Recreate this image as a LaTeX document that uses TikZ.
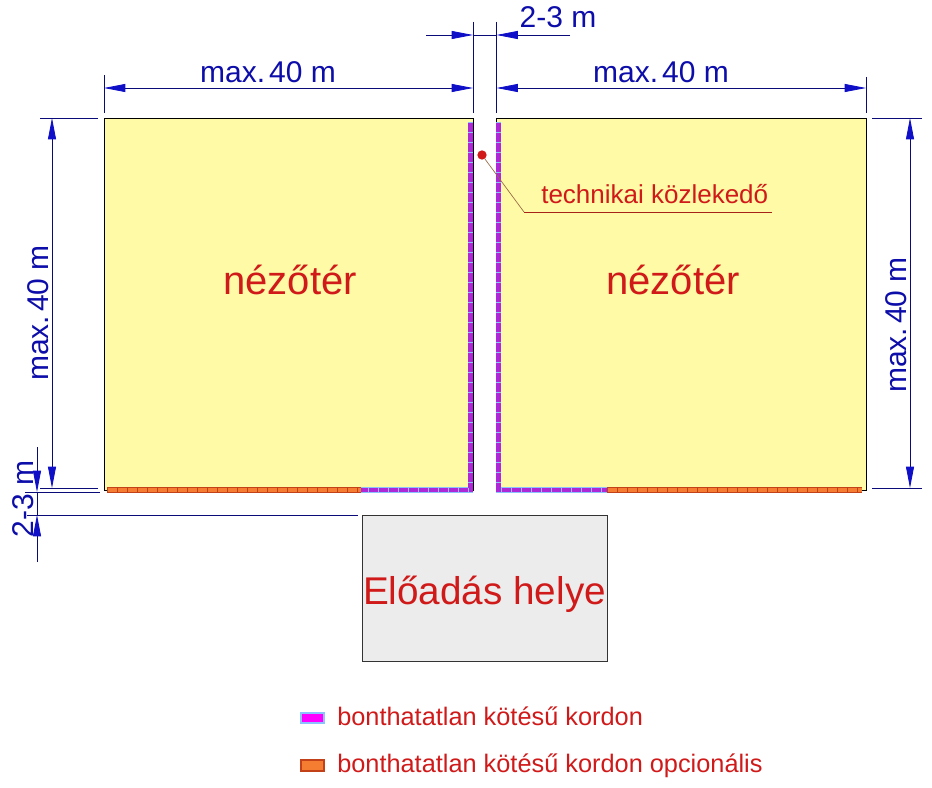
\documentclass[tikz,border=0pt]{standalone}
\usepackage{fontspec}
\setmainfont{Liberation Sans}
\usetikzlibrary{arrows.meta,positioning}

\definecolor{dimblue}{RGB}{15,15,200}
\definecolor{dimnavy}{RGB}{10,10,120}
\definecolor{labelred}{RGB}{208,26,26}
\definecolor{areayellow}{RGB}{255,250,165}
\definecolor{stagegray}{RGB}{236,236,236}
\definecolor{cordonviolet}{RGB}{175,40,215}
\definecolor{cordonedge}{RGB}{140,195,255}
\definecolor{legendmagenta}{RGB}{255,0,255}
\definecolor{optorange}{RGB}{245,125,50}
\definecolor{optedge}{RGB}{195,65,25}
\definecolor{leaderbrown}{RGB}{150,105,70}
\definecolor{underlinered}{RGB}{165,35,25}

\begin{document}
\begin{tikzpicture}[x=0.75pt,y=0.75pt,yscale=-1,xscale=1,
  dimline/.style={draw=dimnavy,line width=0.6pt},
  dimarrows/.style={dimline,{Triangle[length=16pt,width=6pt,color=dimblue]}-{Triangle[length=16pt,width=6pt,color=dimblue]}},
  dimtip/.style={dimline,-{Triangle[length=16pt,width=6pt,color=dimblue]}},
  dimtext/.style={text=dimblue!85!black,inner sep=0pt,anchor=base,font=\fontsize{22.5}{26}\selectfont},
  area/.style={draw=black,line width=0.6pt,fill=areayellow},
  cordon/.style={draw=cordonedge,line width=4.4pt,
    postaction={draw=cordonviolet,line width=3.1pt},
    postaction={draw=cordonedge,line width=3.1pt,dash pattern=on 0.7pt off 6.8pt}},
  optcordon/.style={draw=optedge,line width=4.2pt,
    postaction={draw=optorange,line width=2.8pt},
    postaction={draw=optedge,line width=2.8pt,dash pattern=on 0.6pt off 6.9pt}},
  bigred/.style={text=labelred,inner sep=0pt,anchor=base,font=\fontsize{30}{34}\selectfont},
  legendtext/.style={text=labelred,inner sep=0pt,anchor=base west,font=\fontsize{19}{22}\selectfont},
]
  \useasboundingbox (0,0) rectangle (932,788);

  %Shape: Rectangle [left audience]
  \draw [area] (104,118) rectangle (473,490);
  %Shape: Rectangle [right audience]
  \draw [area] (496,118) rectangle (866,490);
  %Shape: Rectangle [stage]
  \draw [draw=black!80,line width=0.6pt,fill=stagegray] (362,515) rectangle (607,661);

  %Cordon lines
  \draw [optcordon] (107,490) -- (361,490);
  \draw [cordon,line join=miter] (470.5,122) -- (470.5,490) -- (361,490);
  \draw [cordon,line join=miter] (498.5,122) -- (498.5,490) -- (607,490);
  \draw [optcordon] (607,490) -- (862,490);

  %Extension lines
  \draw [dimline] (104,75) -- (104,113);
  \draw [dimline] (473,22) -- (473,113);
  \draw [dimline] (496.5,22) -- (496.5,113);
  \draw [dimline] (866,77) -- (866,113);
  \draw [dimline] (40,118) -- (98,118);
  \draw [dimline] (40,488) -- (98,488);
  \draw [dimline] (25,492) -- (100,492);
  \draw [dimline] (27,515) -- (358,515);
  \draw [dimline] (872,118) -- (922,118);
  \draw [dimline] (872,488) -- (922,488);

  %Dimension points
  \coordinate (topL-a) at (104,88);
  \coordinate (topL-b) at (473,88);
  \coordinate (topR-a) at (496.5,88);
  \coordinate (topR-b) at (866,88);
  \coordinate (sideL-a) at (52,118);
  \coordinate (sideL-b) at (52,488);
  \coordinate (sideR-a) at (910,118);
  \coordinate (sideR-b) at (910,488);
  \coordinate (gap-out1) at (426,35);
  \coordinate (gap-in1) at (473,35);
  \coordinate (gap-in2) at (496.5,35);
  \coordinate (gap-out2) at (570,35);
  \coordinate (aisle-out1) at (37,447);
  \coordinate (aisle-in1) at (37,492);
  \coordinate (aisle-in2) at (37,515);
  \coordinate (aisle-out2) at (37,562);

  %Dimension lines
  \draw [dimarrows] (topL-a) -- (topL-b);
  \draw [dimarrows] (topR-a) -- (topR-b);
  \draw [dimarrows] (sideL-a) -- (sideL-b);
  \draw [dimarrows] (sideR-a) -- (sideR-b);
  \draw [dimtip] (gap-out1) -- (gap-in1);
  \draw [dimline] (gap-in1) -- (gap-in2);
  \draw [dimtip] (gap-out2) -- (gap-in2);
  \draw [dimtip] (aisle-out1) -- (aisle-in1);
  \draw [dimline] (aisle-in1) -- (aisle-in2);
  \draw [dimtip] (aisle-out2) -- (aisle-in2);

  % Text Node
  \node [dimtext] (topL-label) at (268,83) {max.\kern3pt 40 m};
  % Text Node
  \node [dimtext] (topR-label) at (661,83) {max.\kern3pt 40 m};
  % Text Node
  \node [dimtext] (gap-label) at (558,28) {2-3 m};
  % Text Node
  \node [dimtext,rotate=90] (sideL-label) at (48,313) {max.\kern3pt 40 m};
  % Text Node
  \node [dimtext,rotate=90] (sideR-label) at (906,325) {max.\kern3pt 40 m};
  % Text Node
  \node [dimtext,rotate=90] (aisle-label) at (33,499) {2-3 m};

  % Text Node
  \node [bigred] (audL) at (290,294) {nézőtér};
  % Text Node
  \node [bigred] (audR) at (673,294) {nézőtér};
  % Text Node
  \node [bigred,font=\fontsize{29}{33}\selectfont] (stage) at (484.5,604) {Előadás helye};

  %Technical aisle marker
  \node [circle,fill=labelred,inner sep=0pt,minimum size=7pt] (tech-dot) at (482,155) {};
  \coordinate (leader-knee) at (524,212);
  \coordinate (leader-end) at (772,212);
  \draw [leaderbrown,line width=0.5pt] (tech-dot) -- (leader-knee);
  \draw [underlinered,line width=0.6pt] (leader-knee) -- (leader-end);
  % Text Node
  \node [legendtext,font=\fontsize{19.5}{22}\selectfont] (tech-label) at (541,204) {technikai közlekedő};

  %Legend
  \draw [draw=cordonedge,line width=0.8pt,fill=legendmagenta] (301,713) rectangle (324,723) node (key1) {};
  \draw [draw=optedge,line width=0.8pt,fill=optorange] (301,760) rectangle (324,771) node (key2) {};
  % Text Node
  \node [legendtext] (key1-label) at (337,725) {bonthatatlan kötésű kordon};
  % Text Node
  \node [legendtext] (key2-label) at (337,772) {bonthatatlan kötésű kordon opcionális};
\end{tikzpicture}
\end{document}
